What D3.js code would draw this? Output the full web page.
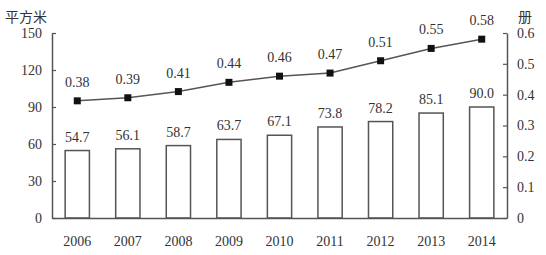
<!DOCTYPE html>
<html>
<head>
<meta charset="utf-8">
<script src="https://cdn.jsdelivr.net/npm/d3@7"></script>
<style>
  body { margin: 0; background: #fff; }
  svg { display: block; font-family: "Liberation Serif", "Times New Roman", serif; }
</style>
</head>
<body>
<div id="chart"></div>
<script>
// data
const years = ["2006", "2007", "2008", "2009", "2010", "2011", "2012", "2013", "2014"];
const area = [54.7, 56.1, 58.7, 63.7, 67.1, 73.8, 78.2, 85.1, 90.0];      // 平方米
const books = [0.38, 0.39, 0.41, 0.44, 0.46, 0.47, 0.51, 0.55, 0.58];     // 册
const leftTicks = [0, 30, 60, 90, 120, 150];
const rightTicks = [0, 0.1, 0.2, 0.3, 0.4, 0.5, 0.6];

const W = 546, H = 255;
const margin = {top: 33, right: 39, bottom: 37, left: 52};
const width = W - margin.left - margin.right;
const height = H - margin.top - margin.bottom;
const ink = "#555", txt = "#333";

const svg = d3.select("#chart").append("svg")
  .attr("width", W).attr("height", H);
const g = svg.append("g")
  .attr("transform", "translate(" + margin.left + "," + margin.top + ")");

const x = d3.scaleBand().domain(years).range([0, width]).paddingInner(0.52).paddingOuter(0.26);
const yL = d3.scaleLinear().domain([0, 150]).range([height, 0]);
const yR = d3.scaleLinear().domain([0, 0.6]).range([height, 0]);

// bars
g.selectAll("rect.bar").data(area).enter().append("rect")
  .attr("class", "bar")
  .attr("x", (d, i) => x(years[i]))
  .attr("y", d => yL(d))
  .attr("width", x.bandwidth())
  .attr("height", d => height - yL(d))
  .attr("fill", "#fff")
  .attr("stroke", ink)
  .attr("stroke-width", 1.5);

g.selectAll("text.barlab").data(area).enter().append("text")
  .attr("x", (d, i) => x(years[i]) + x.bandwidth() / 2)
  .attr("y", d => yL(d) - 9)
  .attr("text-anchor", "middle")
  .attr("font-size", 14).attr("fill", txt)
  .text(d => d.toFixed(1));

// line
const cx = i => x(years[i]) + x.bandwidth() / 2;
g.append("path")
  .datum(books)
  .attr("fill", "none").attr("stroke", ink).attr("stroke-width", 1.5)
  .attr("d", d3.line().x((d, i) => cx(i)).y(d => yR(d)));

g.selectAll("rect.pt").data(books).enter().append("rect")
  .attr("x", (d, i) => cx(i) - 3.5)
  .attr("y", d => yR(d) - 3.5)
  .attr("width", 7).attr("height", 7)
  .attr("fill", "#111");

g.selectAll("text.ptlab").data(books).enter().append("text")
  .attr("x", (d, i) => cx(i))
  .attr("y", d => yR(d) - 14)
  .attr("text-anchor", "middle")
  .attr("font-size", 14).attr("fill", txt)
  .text(d => d.toFixed(2));

// axes
const axL = g.append("g")
  .call(d3.axisLeft(yL).tickValues(leftTicks).tickSizeInner(-4).tickSizeOuter(0).tickPadding(10));
const axR = g.append("g").attr("transform", "translate(" + width + ",0)")
  .call(d3.axisRight(yR).tickValues(rightTicks).tickSizeInner(-4).tickSizeOuter(0).tickPadding(10)
    .tickFormat(d => d === 0 ? "0" : d3.format(".1f")(d)));
const axB = g.append("g").attr("transform", "translate(0," + height + ")")
  .call(d3.axisBottom(x).tickSize(0).tickPadding(18));

[axL, axR, axB].forEach(a => {
  a.select(".domain").attr("stroke", ink).attr("stroke-width", 1.5);
  a.selectAll(".tick line").attr("stroke", ink).attr("stroke-width", 1.2);
  a.selectAll("text").attr("font-size", 14).attr("fill", txt)
    .attr("font-family", "Liberation Serif, serif");
});

// unit labels
svg.append("text").attr("x", 5).attr("y", 22)
  .attr("font-size", 14).attr("fill", txt)
  .attr("font-family", "Noto Sans CJK SC, sans-serif")
  .text("平方米");
svg.append("text").attr("x", 518).attr("y", 22)
  .attr("font-size", 14).attr("fill", txt)
  .attr("font-family", "Noto Sans CJK SC, sans-serif")
  .text("册");
</script>
</body>
</html>
